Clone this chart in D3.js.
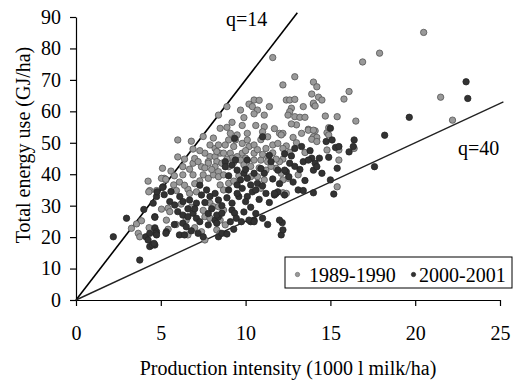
<!DOCTYPE html>
<html><head><meta charset="utf-8">
<script src="https://cdn.jsdelivr.net/npm/d3@7"></script>
<style>
html,body{margin:0;padding:0;background:#fff;}
svg text{font-family:"Liberation Serif","Times New Roman",serif;fill:#000;}
</style></head>
<body><svg id="c" width="516" height="383"></svg>
<script>
// ---- data ----
const xTicks = [0,5,10,15,20,25];
const yTicks = [0,10,20,30,40,50,60,70,80,90];
const xLabel = "Production intensity (1000 l milk/ha)";
const yLabel = "Total energy use (GJ/ha)";
const seriesNames = ["1989-1990","2000-2001"];
const refLines = [
  {label:"q=14", slope:7.0, xEnd:13.05},
  {label:"q=40", slope:2.5, xEnd:25.2}
];
const points8990 = [
[20.5,85.1],[17.9,78.5],[16.9,75.7],[11.6,77.1],[12.9,71.0],[12.2,68.4],[14.0,69.3],[14.2,67.8],[16.1,66.3],[15.8,63.9],
[13.9,65.5],[14.3,64.5],[14.5,63.6],[12.4,63.6],[12.6,63.6],[12.9,63.8],[13.4,61.5],[14.0,62.2],[12.7,61.0],[12.6,59.9],
[12.5,58.8],[12.9,58.3],[13.2,58.1],[13.5,58.1],[14.7,58.5],[15.4,58.3],[16.5,56.9],[21.5,64.5],[22.2,57.2],[13.0,55.7],
[13.7,54.3],[14.1,53.8],[14.0,51.9],[14.2,51.7],[14.8,53.2],[14.9,52.5],[12.0,53.0],[12.2,53.0],[12.8,51.7],[14.8,47.7],
[16.4,48.2],[15.5,44.5],[13.1,39.8],[15.4,36.0],[12.2,34.1],[12.4,33.9],[13.5,46.9],
[14.0,62.6],[14.1,61.7],[13.7,54.0],[14.0,54.0],[13.9,51.1],[14.2,50.4],[14.9,54.8],[12.4,49.0],[15.5,47.7],[12.2,44.8],[12.5,38.7],
[6.0,50.9],[6.9,48.0],[8.4,58.8],[8.5,54.6],[6.4,44.8],[6.9,43.5],[7.9,49.3],[8.2,48.2],[7.6,46.7],[7.9,45.6],[8.2,45.6],[8.3,44.0],[7.8,44.0],[8.5,46.7],
[10.5,63.6],[10.2,62.3],[10.4,61.5],[10.7,60.4],[10.5,59.2],[11.1,58.8],[9.7,60.4],[8.9,61.5],[8.9,54.9],[9.1,53.0],
[9.5,52.5],[9.0,50.9],[9.4,50.9],[9.3,48.8],[9.8,49.8],[10.1,53.0],[10.1,50.9],[10.2,48.8],[10.5,49.3],[9.8,46.7],
[10.0,45.1],[10.5,46.7],[11.1,55.1],[11.0,53.5],[11.3,51.9],[11.6,49.3],[11.9,49.8],[11.2,48.2],[12.1,52.5],[12.2,48.2],
[8.8,49.3],[8.4,49.3],[8.3,47.2],[8.7,46.7],[9.1,46.7],[9.2,45.1],[9.5,45.6],[9.7,44.5],[10.5,44.5],[10.9,44.5],[11.3,45.6],
[5.1,41.9],[5.2,38.7],[5.3,38.2],[6.3,42.4],[6.3,39.8],[6.7,41.6],[6.9,39.8],[7.4,42.4],[7.8,43.5],[8.2,42.4],
[7.5,39.8],[7.3,37.9],[7.8,38.7],[8.1,39.8],[8.4,40.8],[4.35,34.8],[4.75,34.8],[5.76,36.6],[5.92,34.8],[6.6,35.2],
[6.7,33.9],[7.1,34.4],[5.43,29.2],[5.53,28.1],[5.33,25.4],[7.9,30.8],[8.1,29.7],[7.6,26.5],[7.9,26.0],[7.4,21.7],
[8.3,22.3],[8.5,21.2],[6.5,25.4],
[8.6,43.5],[9.0,42.4],[8.4,39.2],[8.7,39.8],[9.0,37.1],[8.5,36.6],[8.7,35.0],[10.3,39.2],[10.7,39.2],[11.1,38.2],
[11.2,41.3],[11.8,41.9],[12.0,44.0],[11.3,44.0],[12.2,38.2],[12.1,40.3],[8.4,29.7],[8.7,28.6],[8.5,25.4],[8.8,23.9],
[4.25,37.8],[4.29,34.4],[5.04,38.7],[5.29,38.4],[3.27,22.8],[3.57,24.2],[3.86,25.2],[3.67,21.2],[3.76,20.1],[4.31,23.0],
[4.65,23.0],[5.04,28.9],[5.43,22.5],[6.6,20.7],[7.6,19.1],
[7.0,45.0],[7.3,47.5],[7.2,44.0],[7.6,42.0],[8.0,41.5],[8.9,44.8],[9.3,43.8],[9.9,43.0],[10.3,42.5],[10.8,42.0],
[10.0,47.5],[10.7,47.8],[11.0,46.3],[11.6,46.8],[11.8,44.8],[12.6,47.0],[11.5,42.5],[9.6,39.5],[9.3,37.8],[10.9,35.5],
[6.1,37.5],[6.4,36.5],[7.0,37.0],[6.0,45.5],[5.6,41.0],[5.8,39.5],[6.8,29.5],[6.2,30.5],[7.5,28.5],[5.9,24.0],
[7.0,23.0],[9.2,56.5],[9.8,55.5],[10.6,55.5],[10.9,51.0],[11.7,54.5],[12.7,56.0],[13.3,53.0],[13.0,50.0],[11.4,61.5],
[9.9,58.0],[10.8,63.5],[8.1,51.5],[7.5,52.0],[6.8,50.5]
];
const points0001 = [
[23.0,69.4],[23.1,64.1],[19.65,58.1],[18.2,52.4],[17.6,42.4],[15.0,54.6],[14.75,50.4],[15.1,50.9],[15.3,48.5],[15.5,48.8],
[16.4,50.9],[16.35,48.8],[16.1,47.1],[14.9,45.4],[13.3,48.8],[12.9,48.2],[13.9,45.1],[14.1,43.5],[14.35,45.1],[14.0,41.3],
[14.5,40.3],[13.4,44.0],[13.7,44.5],[12.7,45.8],[12.6,43.5],[12.4,40.8],[12.55,39.2],[11.9,41.3],[15.4,41.9],[15.0,38.2],
[13.1,35.0],[13.4,34.8],[14.0,34.1],[15.2,33.7],[11.8,33.9],[11.7,33.4],[12.16,24.6],[12.1,20.7],[10.5,25.4],[10.3,24.9],
[14.2,42.4],[12.3,41.3],
[9.35,51.4],[11.0,51.9],[10.1,44.5],[11.5,44.0],[8.8,44.0],
[5.14,36.0],[4.75,32.9],[4.55,30.8],[6.12,32.9],[6.31,31.3],[5.53,31.3],[5.82,30.2],[6.7,31.8],[7.1,30.8],[7.4,33.4],
[7.7,35.0],[7.9,32.9],[8.2,33.9],[8.4,31.8],[4.65,26.5],[6.0,28.1],[6.3,27.0],[6.6,26.5],[6.9,27.6],[7.1,26.0],
[7.3,24.9],[7.8,23.9],[8.2,25.4],[8.4,26.5],[6.3,24.4],[6.5,23.3],[4.65,22.8],[4.75,21.7],[5.33,21.7],
[8.8,42.4],[9.2,42.9],[9.5,41.3],[9.9,40.3],[10.1,38.7],[9.7,38.2],[9.5,36.6],[10.3,36.6],[10.7,37.1],[10.4,34.4],
[11.1,40.3],[10.5,40.3],[11.2,33.9],[11.9,34.4],[11.7,33.9],[9.6,32.9],[10.1,32.9],[10.0,31.3],[9.5,33.9],[9.2,30.8],
[9.2,28.6],[9.35,27.6],[9.45,26.0],[9.75,24.9],[10.2,25.4],[10.5,24.9],[9.1,24.9],[8.3,27.0],[8.3,24.4],[8.6,27.6],
[12.3,33.4],[12.0,25.4],[12.2,22.3],
[2.2,20.1],[2.98,26.0],[4.0,28.8],[3.76,12.7],[4.65,26.3],[4.78,34.4],[5.1,35.8],[4.12,20.1],[4.25,19.1],[4.35,17.0],
[4.65,17.5],[4.71,21.2],
[4.35,21.2],[4.75,20.7],[5.3,21.2],[6.1,20.7],[6.4,20.7],[7.2,21.2],[7.5,20.1],[8.4,20.1],[8.6,21.2],[4.5,17.5],[4.6,18.0],
[9.0,39.5],[9.8,35.5],[10.6,35.0],[11.0,36.3],[10.8,32.0],[11.4,31.0],[10.3,29.5],[9.9,28.0],[10.6,27.5],[11.0,26.0],
[9.0,35.0],[8.6,30.0],[8.9,32.5],[8.0,29.0],[7.6,31.0],[7.0,29.0],[6.6,29.0],[7.8,27.5],[10.9,41.8],[11.6,38.5],
[12.0,37.0],[12.8,37.5],[13.5,38.0],[13.2,41.5],[12.9,42.5],[11.4,46.0],[10.0,41.5],[9.4,44.5],[12.3,46.5],[13.8,47.5],
[8.9,21.0],[9.3,22.5],[11.3,24.0],[6.8,22.0],[5.8,24.0],[5.2,33.5],[5.6,34.5],[7.3,36.5]
];

// ---- chart ----
const svg = d3.select("#c");
const x = d3.scaleLinear().domain([0,25]).range([76,500]);
const y = d3.scaleLinear().domain([0,90]).range([300,17]);
const fs = "20px";

// axes
const gx = svg.append("g").attr("transform","translate(0,300)")
  .call(d3.axisBottom(x).tickValues(xTicks).tickSize(6).tickPadding(20).tickSizeOuter(0));
const gy = svg.append("g").attr("transform","translate(76,0)")
  .call(d3.axisLeft(y).tickValues(yTicks).tickSize(6).tickPadding(9).tickSizeOuter(0));
[gx,gy].forEach(g=>{
  g.selectAll("path.domain").attr("stroke","#000").attr("stroke-width",1.2);
  g.selectAll(".tick line").attr("stroke","#000").attr("stroke-width",1.2);
  g.selectAll(".tick text").attr("font-size",fs).attr("font-family","Liberation Serif").attr("fill","#000");
});

// reference lines
const lineG = svg.append("g");
refLines.forEach((r,i)=>{
  lineG.append("line")
    .attr("x1",x(0)).attr("y1",y(0))
    .attr("x2",x(r.xEnd)).attr("y2",y(r.slope*r.xEnd))
    .attr("stroke", i===0 ? "#000" : "#222")
    .attr("stroke-width", i===0 ? 1.6 : 1.4);
});

// points
const r = 3.2;
svg.append("g").selectAll("circle").data(points8990).join("circle")
  .attr("cx",d=>x(d[0])).attr("cy",d=>y(d[1])).attr("r",r)
  .attr("fill","#999").attr("stroke","#555").attr("stroke-width",0.8);
svg.append("g").selectAll("circle").data(points0001).join("circle")
  .attr("cx",d=>x(d[0])).attr("cy",d=>y(d[1])).attr("r",r)
  .attr("fill","#333").attr("stroke","#262626").attr("stroke-width",0.8);

// line labels
svg.append("text").attr("x",226).attr("y",26).attr("font-size",fs).text(refLines[0].label);
svg.append("text").attr("x",458).attr("y",155).attr("font-size",fs).text(refLines[1].label);

// axis titles
svg.append("text").attr("x",(76+500)/2).attr("y",375).attr("text-anchor","middle")
  .attr("font-size",fs).text(xLabel);
svg.append("text").attr("transform","translate(30,145) rotate(-90)").attr("text-anchor","middle")
  .attr("font-size",fs).text(yLabel);

// legend
const lg = svg.append("g");
lg.append("rect").attr("x",285).attr("y",257).attr("width",227).attr("height",31)
  .attr("fill","#fff").attr("stroke","#000").attr("stroke-width",1);
const legX = [297.5, 413.5], legTX = [309, 419];
seriesNames.forEach((n,i)=>{
  lg.append("circle").attr("cx",legX[i]).attr("cy",274.5).attr("r",2.2)
    .attr("fill", i===0?"#999":"#333").attr("stroke", i===0?"#666":"#222").attr("stroke-width",0.6);
  lg.append("text").attr("x",legTX[i]).attr("y",281.5).attr("font-size",fs).text(n);
});
</script></body></html>
